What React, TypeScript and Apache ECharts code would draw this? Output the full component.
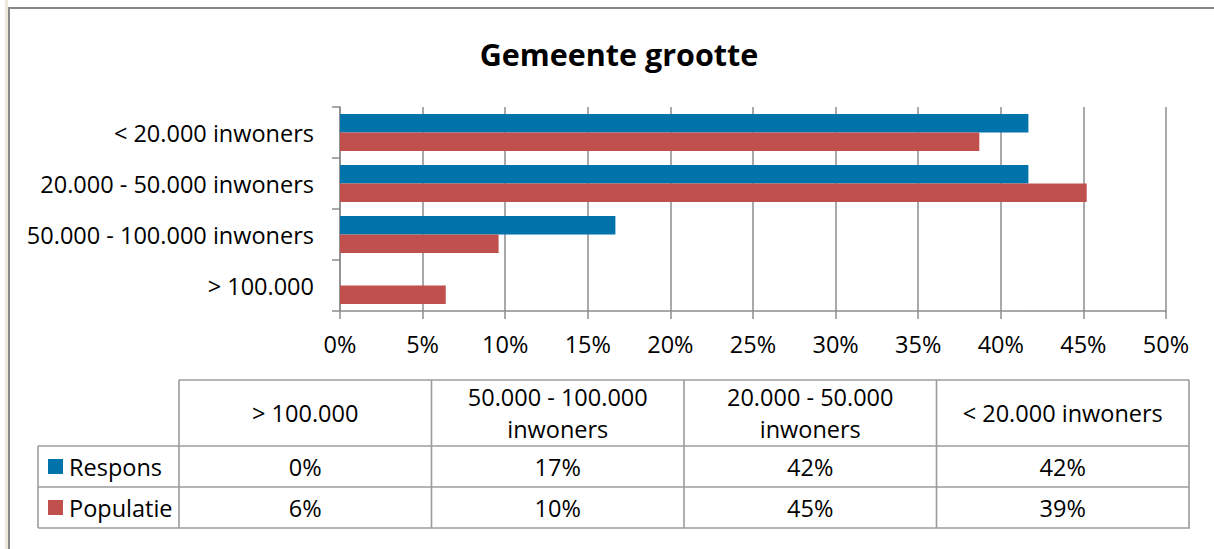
import React, { useEffect, useRef } from "react";
import * as echarts from "echarts";

const titleText = "Gemeente grootte";
const categories = ["> 100.000", "50.000 - 100.000 inwoners", "20.000 - 50.000 inwoners", "< 20.000 inwoners"];
const seriesNames = ["Respons", "Populatie"];
const respons = [0, 16.67, 41.67, 41.67];
const populatie = [6.4, 9.6, 45.2, 38.7];
const seriesColors = ["#0073AA", "#C0504D"];
const xTicks = [0, 5, 10, 15, 20, 25, 30, 35, 40, 45, 50];

const FONT = "'Open Sans', 'Noto Sans', sans-serif";
const FS = 23.5;
const GRID = "#8c8c8c";
const TABLE_LINE = "#9c9c9c";

function wrapLabel(s: string): string {
  if (s.length <= 20) return s;
  const i = s.lastIndexOf(" ");
  return s.slice(0, i) + "\n" + s.slice(i + 1);
}

export default function App() {
  const ref = useRef<HTMLDivElement>(null);
  useEffect(() => {
    if (!ref.current) return;
    const chart = echarts.init(ref.current, undefined, { renderer: "svg" });
    const seriesData = [respons, populatie];

    // Data table layout
    const tLeft = 179, tRight = 1189, legLeft = 38;
    const rowY = [380, 446, 487, 528];
    const colW = (tRight - tLeft) / categories.length;
    const g: any[] = [];
    // page decorations: beige strip + chart border
    g.push({ type: "rect", shape: { x: 5, y: 0, width: 3, height: 549 }, style: { fill: "#ECE9D8" }, silent: true });
    g.push({ type: "line", shape: { x1: 8, y1: 8, x2: 1214, y2: 8 }, style: { stroke: "#888888", lineWidth: 2 }, silent: true });
    g.push({ type: "line", shape: { x1: 9, y1: 7, x2: 9, y2: 549 }, style: { stroke: "#888888", lineWidth: 2 }, silent: true });

    const line = (x1: number, y1: number, x2: number, y2: number) =>
      g.push({ type: "line", shape: { x1, y1, x2, y2 }, style: { stroke: TABLE_LINE, lineWidth: 1.6 }, silent: true });
    // horizontal lines
    line(tLeft, rowY[0], tRight, rowY[0]);
    line(legLeft, rowY[1], tRight, rowY[1]);
    line(legLeft, rowY[2], tRight, rowY[2]);
    line(legLeft, rowY[3], tRight + 1, rowY[3]);
    // vertical lines
    line(legLeft, rowY[1], legLeft, rowY[3]);
    for (let c = 0; c <= categories.length; c++) {
      const x = tLeft + c * colW;
      line(x, rowY[0], x, rowY[3]);
    }
    // header texts
    categories.forEach((cat, c) => {
      g.push({
        type: "text",
        x: tLeft + (c + 0.5) * colW,
        y: (rowY[0] + rowY[1]) / 2,
        style: { text: wrapLabel(cat), font: `${FS}px ${FONT}`, fill: "#000", align: "center", verticalAlign: "middle", lineHeight: 32 },
        silent: true,
      });
    });
    // rows
    seriesNames.forEach((name, r) => {
      const cy = (rowY[r + 1] + rowY[r + 2]) / 2;
      g.push({ type: "rect", shape: { x: 48, y: cy - 7.5, width: 15, height: 15 }, style: { fill: seriesColors[r] }, silent: true });
      g.push({
        type: "text", x: 69, y: cy,
        style: { text: name, font: `${FS}px ${FONT}`, fill: "#000", align: "left", verticalAlign: "middle" }, silent: true,
      });
      seriesData[r].forEach((v, c) => {
        g.push({
          type: "text", x: tLeft + (c + 0.5) * colW, y: cy,
          style: { text: Math.round(v) + "%", font: `${FS}px ${FONT}`, fill: "#000", align: "center", verticalAlign: "middle" }, silent: true,
        });
      });
    });

    chart.setOption({
      animation: false,
      backgroundColor: "#ffffff",
      title: {
        text: titleText,
        left: 614,
        top: 33,
        textAlign: "center",
        textStyle: { fontFamily: FONT, fontSize: 30.5, fontWeight: "bold", color: "#000" },
      },
      grid: { left: 340, right: 48, top: 107, bottom: 549 - 311, containLabel: false },
      xAxis: {
        type: "value",
        min: xTicks[0],
        max: xTicks[xTicks.length - 1],
        interval: xTicks[1] - xTicks[0],
        axisLine: { show: true, lineStyle: { color: GRID, width: 1.5 } },
        axisTick: { show: true, length: 8, lineStyle: { color: GRID, width: 1.5 } },
        splitLine: { show: true, lineStyle: { color: GRID, width: 1.5 } },
        axisLabel: { formatter: "{value}%", fontFamily: FONT, fontSize: FS, color: "#000", margin: 21 },
      },
      yAxis: {
        type: "category",
        data: categories,
        axisLine: { show: true, lineStyle: { color: GRID, width: 1.5 } },
        axisTick: { show: true, length: 8, lineStyle: { color: GRID, width: 1.5 } },
        axisLabel: { fontFamily: FONT, fontSize: FS, color: "#000", margin: 26 },
      },
      series: seriesNames.map((name, i) => ({
        name,
        type: "bar",
        data: seriesData[i],
        itemStyle: { color: seriesColors[i] },
        barGap: "0%",
        barCategoryGap: "27%",
      })),
      graphic: g,
    });
    return () => chart.dispose();
  }, []);
  return <div ref={ref} style={{ position: "fixed", left: 0, top: 0, width: 1214, height: 549 }} />;
}
